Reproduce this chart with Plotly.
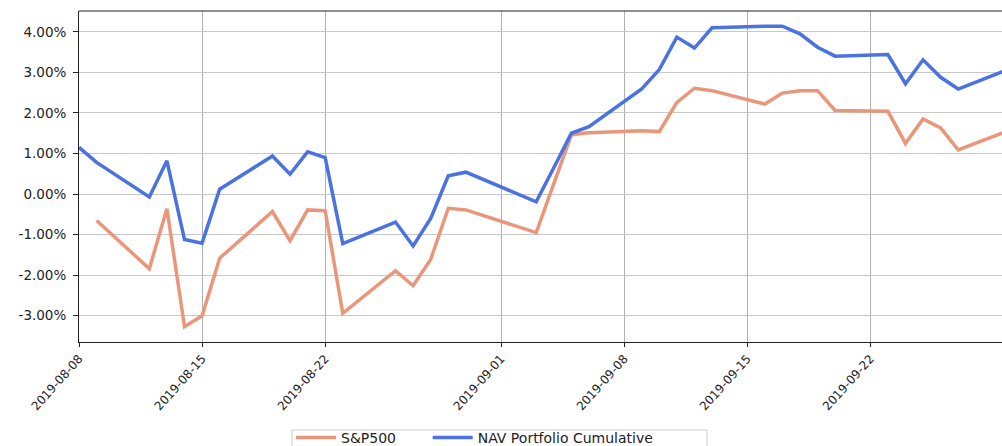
import plotly.graph_objects as go

dates = ["2019-08-08", "2019-08-09", "2019-08-12", "2019-08-13", "2019-08-14", "2019-08-15", "2019-08-16",
         "2019-08-19", "2019-08-20", "2019-08-21", "2019-08-22", "2019-08-23",
         "2019-08-26", "2019-08-27", "2019-08-28", "2019-08-29", "2019-08-30",
         "2019-09-03", "2019-09-04", "2019-09-05", "2019-09-06",
         "2019-09-09", "2019-09-10", "2019-09-11", "2019-09-12", "2019-09-13",
         "2019-09-16", "2019-09-17", "2019-09-18", "2019-09-19", "2019-09-20",
         "2019-09-23", "2019-09-24", "2019-09-25", "2019-09-26", "2019-09-27",
         "2019-09-30"]

sp500 = [None, -0.65, -1.84, -0.36, -3.27, -3.00, -1.58,
         -0.43, -1.15, -0.39, -0.41, -2.94,
         -1.89, -2.26, -1.61, -0.35, -0.39,
         -0.95, 0.25, 1.46, 1.51,
         1.56, 1.54, 2.26, 2.61, 2.55,
         2.22, 2.49, 2.55, 2.55, 2.06,
         2.04, 1.25, 1.85, 1.63, 1.09,
         1.59]

nav = [1.15, 0.78, -0.07, 0.82, -1.12, -1.21, 0.12,
       0.94, 0.49, 1.04, 0.90, -1.22,
       -0.69, -1.28, -0.60, 0.45, 0.54,
       -0.19, 0.65, 1.50, 1.66,
       2.59, 3.07, 3.87, 3.60, 4.10,
       4.14, 4.14, 3.95, 3.62, 3.40,
       3.44, 2.72, 3.31, 2.88, 2.59,
       3.10]

x_ticks = ["2019-08-08", "2019-08-15", "2019-08-22", "2019-09-01", "2019-09-08", "2019-09-15", "2019-09-22"]
y_ticks = [-3, -2, -1, 0, 1, 2, 3, 4]
y_ticktext = [f"{v:.2f}%" for v in y_ticks]

fig = go.Figure()
fig.add_trace(go.Scatter(x=dates, y=sp500, mode="lines", name="S&P500" + "\u00a0" * 6,
                         line=dict(color="#E9967A", width=3.5), connectgaps=False))
fig.add_trace(go.Scatter(x=dates, y=nav, mode="lines", name="NAV Portfolio Cumulative",
                         line=dict(color="#4A72E2", width=3.5)))

fig.update_layout(
    width=1002, height=446,
    margin=dict(l=79, r=0, t=11, b=104, autoexpand=False),
    paper_bgcolor="white", plot_bgcolor="white",
    font=dict(family="DejaVu Sans", color="#222222"),
    showlegend=True,
    legend=dict(orientation="h", x=0.2297, xanchor="left", y=-0.2417, yanchor="top",
                borderwidth=0, bgcolor="rgba(0,0,0,0)",
                font=dict(size=14, color="#222222"), itemwidth=40,
                tracegroupgap=0),
)
fig.update_xaxes(
    type="date", range=["2019-08-08", "2019-09-29 11:45"],
    tickvals=x_ticks, ticktext=x_ticks, tickangle=-48,
    tickfont=dict(size=12, color="#222222"),
    showgrid=True, gridcolor="#b0b0b0", gridwidth=1,
    showline=True, linecolor="#222222", linewidth=1, mirror=False,
    ticks="outside", ticklen=4, tickcolor="#222222", zeroline=False,
)
fig.update_yaxes(
    range=[-3.647, 4.514], tickvals=y_ticks, ticktext=y_ticktext,
    tickfont=dict(size=13.5, color="#222222"),
    showgrid=True, gridcolor="#c8c8c8", gridwidth=1,
    showline=True, linecolor="#222222", linewidth=1, mirror=False,
    ticks="outside", ticklen=5, tickcolor="#222222", zeroline=False,
    ticklabelstandoff=4,
)
# top spine
fig.add_shape(type="line", xref="paper", yref="paper", x0=0, x1=1, y0=1, y1=1,
              line=dict(color="#222222", width=1))
# legend frame (cut off at the bottom like the reference)
fig.add_shape(type="rect", xref="paper", yref="paper", x0=0.2308, x1=0.6804, y0=-0.2659, y1=-0.37,
              line=dict(color="#cccccc", width=1), fillcolor="rgba(0,0,0,0)", layer="below")

fig.write_html("out.html", config={"displayModeBar": False},
               post_script="document.body.style.margin='0px';")
